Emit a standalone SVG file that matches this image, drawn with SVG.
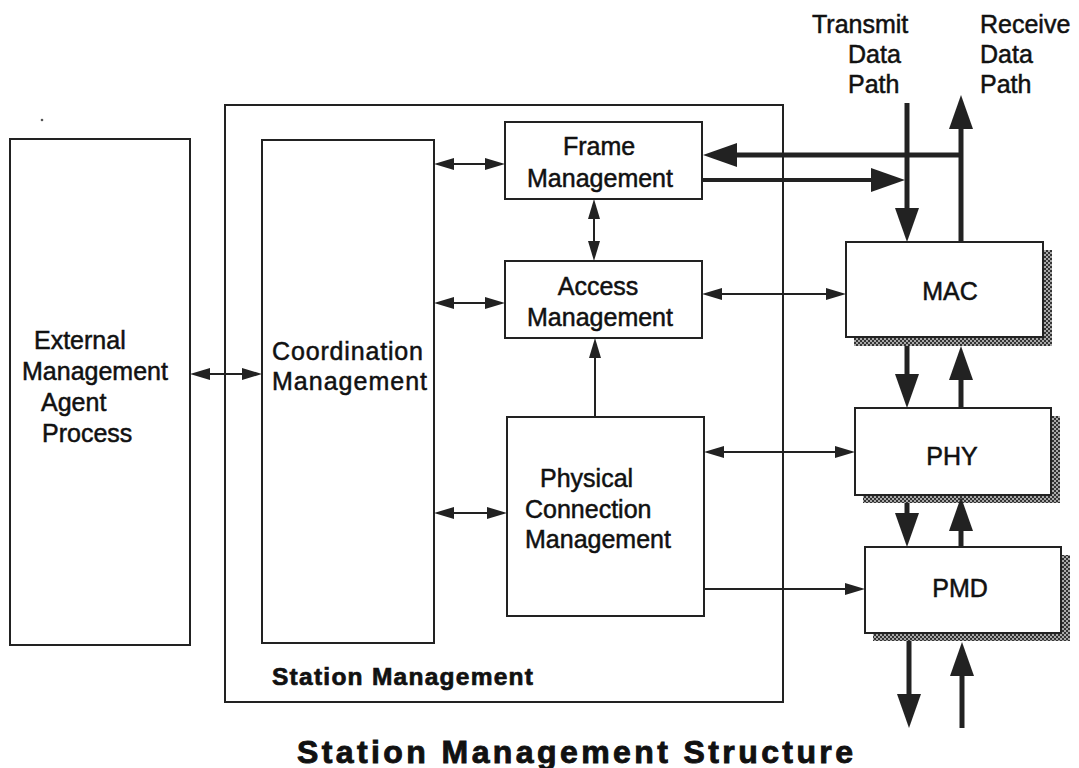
<svg xmlns="http://www.w3.org/2000/svg" width="1079" height="768" viewBox="0 0 1079 768">
<style>
.box{fill:#fff;stroke:#222;stroke-width:2}
.t{font-family:"Liberation Sans",Arial,sans-serif;font-size:25px;fill:#111;stroke:#111;stroke-width:0.5}
.b{font-weight:bold}
.sm{font-size:24.5px;stroke-width:0.7}
.ttl{font-size:32px;stroke-width:0.9}
.thin{fill:none;stroke:#222;stroke-width:2}
.thick{fill:none;stroke:#222;stroke-width:5}
.med{stroke-width:4}
.shadow{fill:url(#checker)}
</style>
<defs>
<pattern id="checker" width="4" height="4" patternUnits="userSpaceOnUse">
<rect width="4" height="4" fill="#a8a8a8"/>
<rect width="2" height="2" fill="#333"/>
<rect x="2" y="2" width="2" height="2" fill="#333"/>
</pattern>
<marker id="ah" viewBox="0 0 20 12" refX="0" refY="6" markerWidth="20" markerHeight="12" markerUnits="userSpaceOnUse" orient="auto-start-reverse">
<path d="M0,0 L20,6 L0,12 z" fill="#222"/>
</marker>
<marker id="AH" viewBox="0 0 34 24" refX="0" refY="12" markerWidth="34" markerHeight="24" markerUnits="userSpaceOnUse" orient="auto-start-reverse">
<path d="M0,0 L34,12 L0,24 z" fill="#222"/>
</marker>
</defs>
<rect width="1079" height="768" fill="#fff"/>
<circle cx="42" cy="120" r="1.3" fill="#555"/>

<g id="station-management">
<rect class="box" x="225" y="105" width="558" height="597" style="fill:none"/>
<text class="t b sm" x="272" y="685" textLength="261">Station Management</text>
</g>

<g id="external-management">
<rect class="box" x="10" y="139" width="180" height="506"/>
<text class="t" x="34" y="349">External</text>
<text class="t" x="22" y="380">Management</text>
<text class="t" x="41" y="411">Agent</text>
<text class="t" x="42" y="442">Process</text>
</g>

<g id="coordination-management">
<rect class="box" x="262" y="140" width="172" height="503"/>
<text class="t" x="272" y="360" textLength="151">Coordination</text>
<text class="t" x="272" y="390" textLength="155">Management</text>
</g>

<g id="frame-management">
<rect class="box" x="505" y="122" width="197" height="77"/>
<text class="t" x="599" y="155" text-anchor="middle">Frame</text>
<text class="t" x="600" y="187" text-anchor="middle">Management</text>
</g>

<g id="access-management">
<rect class="box" x="505" y="261" width="197" height="77"/>
<text class="t" x="598" y="295" text-anchor="middle">Access</text>
<text class="t" x="600" y="326" text-anchor="middle">Management</text>
</g>

<g id="physical-connection-management">
<rect class="box" x="507" y="417" width="197" height="199"/>
<text class="t" x="540" y="487">Physical</text>
<text class="t" x="525" y="518">Connection</text>
<text class="t" x="525" y="548">Management</text>
</g>

<g id="mac">
<rect class="shadow" x="854" y="250" width="198" height="96"/>
<rect class="box" x="846" y="242" width="197" height="95"/>
<text class="t" x="950" y="300" text-anchor="middle">MAC</text>
</g>

<g id="phy">
<rect class="shadow" x="863" y="416" width="197" height="87"/>
<rect class="box" x="855" y="408" width="196" height="87"/>
<text class="t" x="952" y="465" text-anchor="middle">PHY</text>
</g>

<g id="pmd">
<rect class="shadow" x="873" y="555" width="197" height="86"/>
<rect class="box" x="865" y="547" width="196" height="86"/>
<text class="t" x="960" y="597" text-anchor="middle">PMD</text>
</g>

<g id="data-path-labels">
<text class="t" x="812" y="33">Transmit</text>
<text class="t" x="848" y="63">Data</text>
<text class="t" x="848" y="93">Path</text>
<text class="t" x="980" y="33">Receive</text>
<text class="t" x="980" y="63">Data</text>
<text class="t" x="980" y="93">Path</text>
</g>

<g id="connectors">
<path class="thin" d="M210,374 H242" marker-start="url(#ah)" marker-end="url(#ah)"/>
<path class="thin" d="M454,164 H485" marker-start="url(#ah)" marker-end="url(#ah)"/>
<path class="thin" d="M454,303 H485" marker-start="url(#ah)" marker-end="url(#ah)"/>
<path class="thin" d="M454,513 H487" marker-start="url(#ah)" marker-end="url(#ah)"/>
<path class="thin" d="M594,219 V241" marker-start="url(#ah)" marker-end="url(#ah)"/>
<path class="thin" d="M595,417 V358" marker-end="url(#ah)"/>
<path class="thin" d="M722,294 H826" marker-start="url(#ah)" marker-end="url(#ah)"/>
<path class="thin" d="M724,452 H835" marker-start="url(#ah)" marker-end="url(#ah)"/>
<path class="thin" d="M704,589 H845" marker-end="url(#ah)"/>

<path class="thick" d="M907,103 V208" marker-end="url(#AH)"/>
<path class="thick" d="M961,242 V129" marker-end="url(#AH)"/>
<path class="thick" d="M961,155 H737" marker-end="url(#AH)"/>
<path class="thick med" d="M702,180 H871" marker-end="url(#AH)"/>
<path class="thick" d="M907,346 V374" marker-end="url(#AH)"/>
<path class="thick" d="M961,408 V380" marker-end="url(#AH)"/>
<path class="thick" d="M907,503 V513" marker-end="url(#AH)"/>
<path class="thick" d="M961,547 V531" marker-end="url(#AH)"/>
<path class="thick" d="M909,641 V694" marker-end="url(#AH)"/>
<path class="thick" d="M962,728 V676" marker-end="url(#AH)"/>
</g>

<g id="title">
<text class="t b ttl" x="297" y="763" textLength="556">Station Management Structure</text>
</g>
</svg>
